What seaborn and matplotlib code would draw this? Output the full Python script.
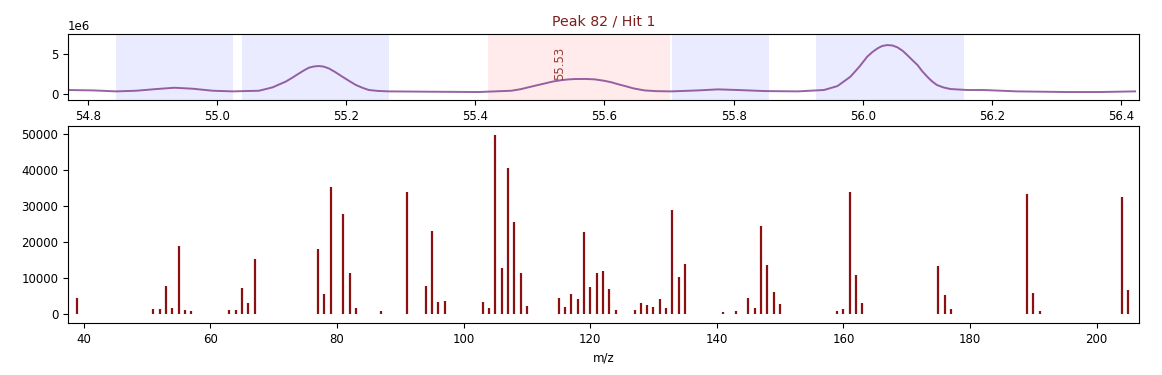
import numpy as np
import pandas as pd
import matplotlib
matplotlib.use("Agg")
import matplotlib.pyplot as plt
import seaborn as sns

# ---- chromatogram (TIC around the hit), in 1e6 ----
rt = [54.769, 54.808, 54.844, 54.875, 54.906, 54.934, 54.962, 54.993, 55.024,
      55.065, 55.086, 55.095, 55.106, 55.116, 55.127, 55.135, 55.142, 55.150,
      55.158, 55.165, 55.173, 55.183, 55.194, 55.205, 55.215, 55.225, 55.235,
      55.250, 55.266, 55.328, 55.405, 55.456, 55.470, 55.482, 55.495, 55.508,
      55.520, 55.534, 55.545, 55.554, 55.570, 55.585, 55.600, 55.611, 55.620,
      55.632, 55.645, 55.662, 55.680, 55.703, 55.745, 55.776, 55.806, 55.848,
      55.899, 55.940, 55.961, 55.981, 55.995, 56.007, 56.015, 56.023, 56.030,
      56.038, 56.046, 56.054, 56.062, 56.069, 56.077, 56.085, 56.092, 56.100,
      56.107, 56.115, 56.125, 56.136, 56.162, 56.187, 56.239, 56.316, 56.368,
      56.422]
tic = [0.50, 0.45, 0.33, 0.41, 0.62, 0.78, 0.66, 0.41, 0.33,
       0.41, 0.83, 1.15, 1.53, 2.00, 2.56, 2.95, 3.26, 3.42,
       3.47, 3.40, 3.18, 2.72, 2.15, 1.60, 1.12, 0.78, 0.50,
       0.38, 0.33, 0.29, 0.25, 0.41, 0.60, 0.83, 1.08, 1.32,
       1.55, 1.73, 1.82, 1.86, 1.87, 1.82, 1.64, 1.45, 1.24,
       0.99, 0.70, 0.45, 0.36, 0.33, 0.45, 0.58, 0.50, 0.37,
       0.33, 0.50, 0.99, 2.15, 3.40, 4.63, 5.20, 5.66, 5.95,
       6.07, 6.02, 5.78, 5.35, 4.83, 4.20, 3.59, 2.85, 2.15,
       1.60, 1.12, 0.82, 0.62, 0.50, 0.50, 0.33, 0.25, 0.25,
       0.33]

# peak windows: (start, end)
other_peaks = [(54.843, 55.024), (55.038, 55.266), (55.704, 55.855), (55.928, 56.157)]
hit_window = (55.419, 55.701)
hit_rt = 55.53
hit_label = "55.53"
title = "Peak 82 / Hit 1"

# ---- mass spectrum of the hit ----
mz = [39, 51, 52, 53, 54, 55, 56, 57, 63, 64, 65, 66, 67, 77, 78, 79, 81, 82, 83,
      87, 91, 94, 95, 96, 97, 103, 104, 105, 106, 107, 108, 109, 110,
      115, 116, 117, 118, 119, 120, 121, 122, 123, 124, 127, 128, 129, 130,
      131, 132, 133, 134, 135, 141, 143, 145, 146, 147, 148, 149, 150,
      159, 160, 161, 162, 163, 175, 176, 177, 189, 190, 191, 204, 205]
intensity = [4400, 1500, 1500, 7800, 1750, 18900, 1000, 850, 1200, 1000, 7200, 3050, 15400,
             18100, 5650, 35300, 27800, 11500, 1550,
             750, 34000, 7800, 23100, 3300, 3500, 3250, 1750, 49800, 12700, 40550, 25550, 11500, 2300,
             4450, 2050, 5550, 4250, 22850, 7500, 11500, 12100, 7050, 1000, 1000, 3050, 2600, 1850,
             4250, 1750, 29050, 10300, 14000, 650, 950, 4450, 1750, 24550, 13700, 6000, 2800,
             750, 1500, 34000, 10750, 3050, 13250, 5300, 1500, 33250, 5950, 950, 32500, 6750]

plt.rcParams["font.size"] = 8.5

tic_df = pd.DataFrame({"rt": rt, "tic": np.array(tic) * 1e6})
spec_df = pd.DataFrame({"mz": mz, "intensity": intensity})

fig = plt.figure(figsize=(11.62, 3.75), dpi=100)
ax_top = fig.add_axes([0.0585, 0.7333, 0.9217, 0.176])
ax_ms = fig.add_axes([0.0585, 0.1387, 0.9217, 0.5253])

# top: chromatogram with peak windows
for a, b in other_peaks:
    ax_top.axvspan(a, b, color="blue", alpha=0.08, lw=0)
ax_top.axvspan(hit_window[0], hit_window[1], color="red", alpha=0.08, lw=0)
sns.lineplot(data=tic_df, x="rt", y="tic", color="#7d3c8c", alpha=0.8, lw=1.4, ax=ax_top)
hit_y = np.interp(hit_rt, rt, tic) * 1e6
ax_top.text(hit_rt, hit_y, hit_label, rotation=90, ha="center", va="bottom",
            color="#8b1a1a", alpha=0.85)
ax_top.set_xlim(54.769, 56.428)
ax_top.set_ylim(-0.74e6, 7.44e6)
ax_top.set_yticks([0, 5e6])
ax_top.set_xlabel("")
ax_top.set_ylabel("")
ax_top.set_title(title, color="#7b1f1f")

# bottom: stick spectrum
ax_ms.vlines(spec_df["mz"], 0, spec_df["intensity"], color="#8b1010", lw=1.6)
ax_ms.set_xlim(37.5, 206.7)
ax_ms.set_xlabel("m/z")

fig.savefig("out.png", dpi=100)
